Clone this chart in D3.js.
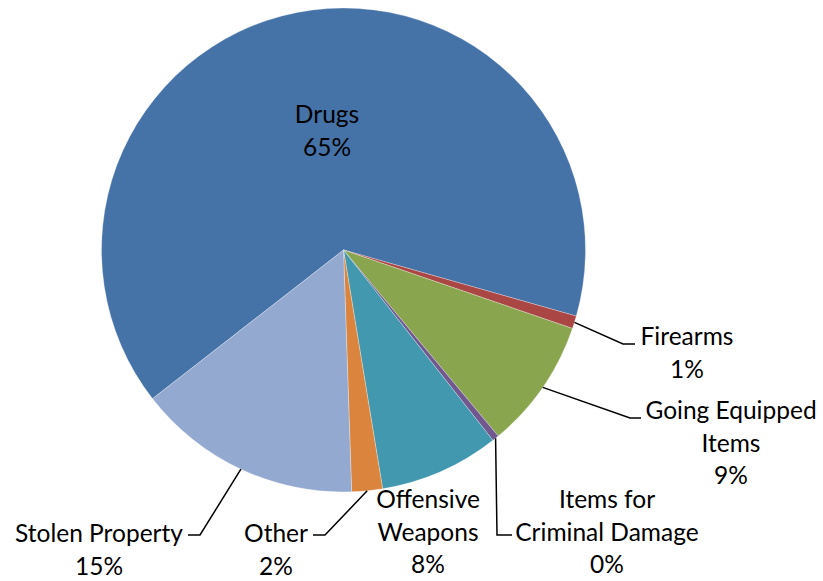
<!DOCTYPE html>
<html>
<head>
<meta charset="utf-8">
<script src="https://cdn.jsdelivr.net/npm/d3@7"></script>
<style>
  html, body { margin: 0; padding: 0; background: #fff; }
  svg text { font-family: Lato, "Noto Sans", sans-serif; fill: #000; }
</style>
</head>
<body>
<div id="chart"></div>
<script>
const categories = ['Drugs', 'Firearms', 'Going Equipped Items', 'Items for Criminal Damage',
  'Offensive Weapons', 'Other', 'Stolen Property'];
const shares = [64.9, 0.85, 8.7, 0.45, 8.0, 2.05, 15.0];
const colors = ['#4572A7', '#AA4643', '#89A54E', '#71588F', '#4198AF', '#DB843D', '#93A9CF'];

// label placement (Excel manual layout), absolute page coords
const labelLayout = {
  'Drugs': { lines: ['Drugs'], x: 327, y: 123 },
  'Firearms': { lines: ['Firearms'], x: 687, y: 345, elbow: [623, 344], end: 635 },
  'Going Equipped Items': { lines: ['Going Equipped', 'Items'], x: 731, y: 419, elbow: [630, 418], end: 641 },
  'Items for Criminal Damage': { lines: ['Items for', 'Criminal Damage'], x: 607, y: 508, elbow: [497, 535], end: 512 },
  'Offensive Weapons': { lines: ['Offensive', 'Weapons'], x: 428, y: 508 },
  'Other': { lines: ['Other'], x: 276, y: 542, elbow: [325, 535], end: 313 },
  'Stolen Property': { lines: ['Stolen Property'], x: 99, y: 542, elbow: [200, 535], end: 188 }
};

const width = 823, height = 581;
const cx = 343.5, cy = 250, radius = 242;
const lineHeight = 32.5;

const svg = d3.select('#chart')
  .append('svg')
  .attr('width', width)
  .attr('height', height);

const data = categories.map((name, i) => ({ name, value: shares[i], color: colors[i] }));
const total = d3.sum(shares);
const fmt = d3.format('.0%');

const start = 232.1 * Math.PI / 180;
const pie = d3.pie()
  .sort(null)
  .value(d => d.value)
  .startAngle(start)
  .endAngle(start + 2 * Math.PI);

const arc = d3.arc().innerRadius(0).outerRadius(radius);

const g = svg.append('g')
  .attr('transform', `translate(${cx},${cy})`);

const arcs = pie(data);

g.selectAll('path.slice')
  .data(arcs)
  .enter().append('path')
    .attr('class', 'slice')
    .attr('d', arc)
    .attr('fill', d => d.data.color)
    .attr('stroke', '#fff')
    .attr('stroke-width', 0.3);

// Leader lines from the arc midpoint
arcs.forEach(d => {
  const lay = labelLayout[d.data.name];
  if (!lay.elbow) return;
  const mid = (d.startAngle + d.endAngle) / 2;
  const sx = cx + radius * Math.sin(mid);
  const sy = cy - radius * Math.cos(mid);
  svg.append('polyline')
    .attr('points', [[sx, sy], lay.elbow, [lay.end, lay.elbow[1]]].map(p => p.join(',')).join(' '))
    .attr('fill', 'none')
    .attr('stroke', '#000')
    .attr('stroke-width', 1.5);
});

// Labels
arcs.forEach(d => {
  const lay = labelLayout[d.data.name];
  const lines = lay.lines.concat([fmt(d.data.value / total)]);
  const t = svg.append('text')
    .attr('text-anchor', 'middle')
    .attr('font-size', 24.5);
  lines.forEach((l, i) => {
    t.append('tspan')
      .attr('x', lay.x)
      .attr('y', lay.y + i * lineHeight)
      .text(l);
  });
});
</script>
</body>
</html>
